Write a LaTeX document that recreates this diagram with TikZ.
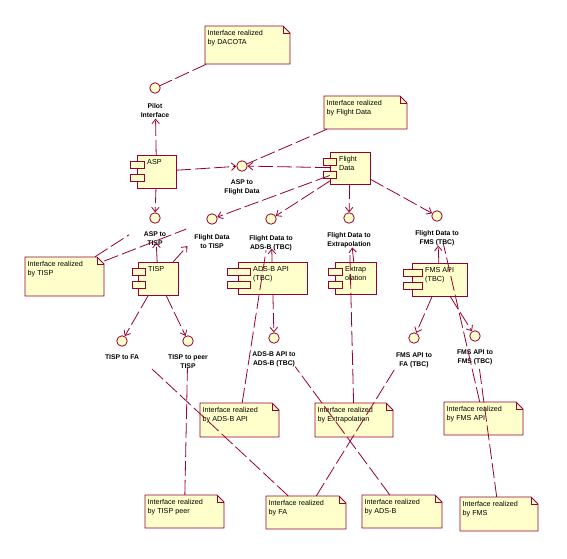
\documentclass[tikz,border=0pt]{standalone}
\usepackage{fontspec}
\setmainfont{Liberation Sans}
\usetikzlibrary{arrows.meta,fit}
\definecolor{umlred}{RGB}{150,0,50}
\definecolor{umlfill}{RGB}{255,255,204}
\tikzset{
  umlline/.style={draw=umlred, line width=0.8pt},
  dep/.style={umlline, dash pattern=on 15pt off 4pt, -{Straight Barb[length=4.5pt,width=7.5pt]}},
  noteline/.style={umlline, dash pattern=on 15pt off 4pt},
  shapebox/.style={umlline, fill=umlfill},
  iface/.style={circle, draw=umlred, fill=umlfill, line width=0.8pt, minimum size=10.5pt, inner sep=0pt},
  ilabel/.style={font=\fontsize{6.8}{9}\selectfont\bfseries, align=center, inner sep=0pt, anchor=north},
  boxtext/.style={font=\fontsize{7.2}{9}\selectfont, align=left, inner sep=0pt, anchor=north west},
  boxnode/.style={inner sep=0pt, draw=none},
}
\newcommand\umlnote[6]{%
  \filldraw[shapebox] (#2,#3) -- ({#4-7},#3) -- (#4,{#3+7}) -- (#4,#5) -- (#2,#5) -- cycle;
  \draw[umlline] ({#4-7},#3) -- ({#4-7},{#3+7}) -- (#4,{#3+7});
  \node[boxnode, fit={(#2,#3)(#4,#5)}] (#1) {};
  \node[boxtext] (#1-t) at ({#2+2.5},{#3+4}) {Interface realized\\#6};
}
\newcommand\umlcomp[8]{%
  \filldraw[shapebox] (#2,#3) rectangle (#4,#5);
  \filldraw[shapebox] (#6,{#3+6.5}) rectangle (#7,{#3+13.5});
  \filldraw[shapebox] (#6,{#3+19.5}) rectangle (#7,{#3+26.5});
  \node[boxnode, fit={(#2,#3)(#4,#5)}] (#1) {};
  \node[boxtext] (#1-t) at ({#7+3},{#3+4}) {#8};
}
\newcommand\umliface[5]{%
  \node[iface] (#1) at (#2,#3) {};
  \node[ilabel] (#1-l) at (#2,#4) {#5};
}
\begin{document}
\begin{tikzpicture}[x=1pt,y=-1pt]
\useasboundingbox (0,0) rectangle (567,558);
% notes
\umlnote{nDacota}{205}{26}{290}{64}{by DACOTA}
\umlnote{nFD}{324}{96}{407}{129}{by Flight Data}
\umlnote{nTISP}{25}{257}{104}{296}{by TISP}
\umlnote{nADSBAPI}{200}{403}{279}{437}{by ADS-B API}
\umlnote{nExtrap}{315}{403}{393}{437}{by Extrapolation}
\umlnote{nFMSAPI}{444}{402}{523}{435}{by FMS API}
\umlnote{nTISPpeer}{145}{495}{224}{528}{by TISP peer}
\umlnote{nFA}{266}{496}{346}{529}{by FA}
\umlnote{nADSB}{362}{495}{442}{528}{by ADS-B}
\umlnote{nFMS}{460}{497}{538}{531}{by FMS}
% components
\umlcomp{cASP}{137}{155}{176}{188}{130}{144}{ASP}
\umlcomp{cFD}{330}{152}{370}{184}{323}{336}{Flight\\Data}
\umlcomp{cTISP}{138}{262}{178}{295}{132}{145}{TISP}
\umlcomp{cADSBAPI}{238}{262}{307}{294}{227}{250}{ADS-B API\\(TBC)}
\umlcomp{cExtrap}{335}{262}{376}{294}{328}{342}{Extrap\\olation}
\umlcomp{cFMSAPI}{412}{263}{467}{296}{403}{422}{FMS API\\(TBC)}
% interfaces
\umliface{iPilot}{155}{88}{103}{Pilot\\Interface}
\umliface{iAF}{242}{166}{180}{ASP to\\Flight Data}
\umliface{iAT}{155}{218}{232}{ASP to\\TISP}
\umliface{iFT}{212}{219}{234}{Flight Data\\to TISP}
\umliface{iFA}{271}{219}{235}{Flight Data to\\ADS-B (TBC)}
\umliface{iFE}{349}{218}{232}{Flight Data to\\Extrapolation}
\umliface{iFF}{437}{216}{230}{Flight Data to\\FMS (TBC)}
\umliface{iTFA}{122}{341}{355}{TISP to FA}
\umliface{iTP}{188}{341}{355}{TISP to peer\\TISP}
\umliface{iAA}{274}{338}{352}{ADS-B API to\\ADS-B (TBC)}
\umliface{iMA}{414}{338}{353}{FMS API to\\FA (TBC)}
\umliface{iMF}{475}{336}{350}{FMS API to\\FMS (TBC)}
% dependencies
\draw[dep, shorten >=25pt] (cASP) -- (iPilot);
\draw[dep] (cASP) -- (iAF);
\draw[dep] (cFD) -- (iAF);
\draw[dep] (cASP) -- (iAT);
\draw[dep, shorten >=19pt] (cTISP) -- (iAT);
\draw[dep, shorten >=31pt] (cTISP) -- (iFT);
\draw[dep] (cTISP) -- (iTFA);
\draw[dep] (cTISP) -- (iTP);
\draw[dep] (cFD) -- (iFT);
\draw[dep] (cFD) -- (iFA);
\draw[dep] (cFD) -- (iFE);
\draw[dep] (cFD) -- (iFF);
\draw[dep, shorten >=24pt] (cADSBAPI) -- (iFA);
\draw[dep] (cADSBAPI) -- (iAA);
\draw[dep, shorten >=24pt] (cExtrap) -- (iFE);
\draw[dep, shorten >=24pt] (cFMSAPI) -- (iFF);
\draw[dep] (cFMSAPI) -- (iMA);
\draw[dep] (cFMSAPI) -- (iMF);
% note attachments
\draw[noteline] (nDacota) -- (iPilot);
\draw[noteline] (nFD) -- (iAF);
\draw[noteline, shorten >=25pt] (nTISP) -- (iAT);
\draw[noteline, shorten >=22pt] (nTISP) -- (iFT);
\draw[noteline, shorten >=26pt] (nADSBAPI) -- (iFA);
\draw[noteline, shorten >=27pt] (nExtrap) -- (iFE);
\draw[noteline, shorten >=23pt] (nFMSAPI) -- (iFF);
\draw[noteline, shorten >=24pt] (nFMS) -- (iMF);
\draw[noteline, shorten >=34pt] (nFA) -- (iTFA);
\draw[noteline, shorten >=28pt] (nFA) -- (iMA);
\draw[noteline, shorten >=30pt] (nADSB) -- (iAA);
\draw[noteline, shorten >=21pt] (nTISPpeer) -- (iTP);
\end{tikzpicture}
\end{document}
